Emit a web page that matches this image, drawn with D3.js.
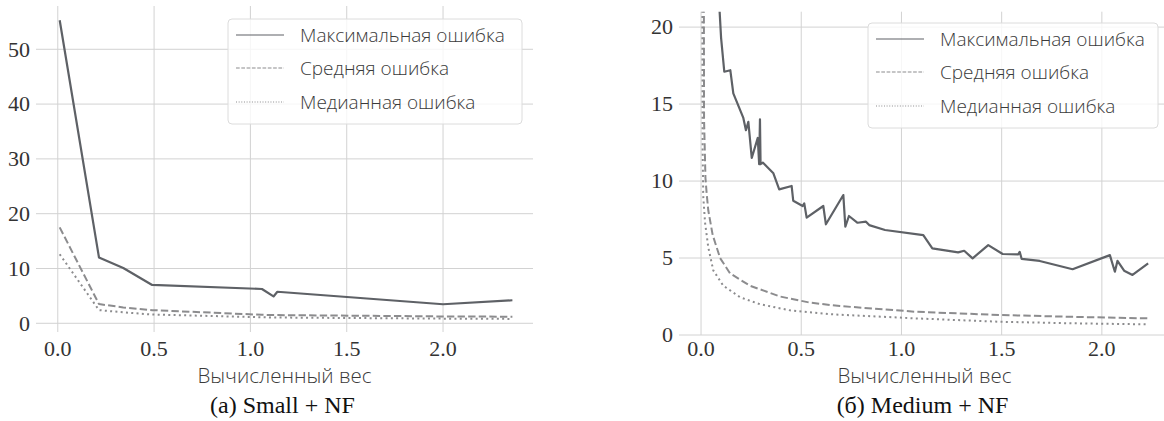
<!DOCTYPE html>
<html>
<head>
<meta charset="utf-8">
<script src="https://cdn.jsdelivr.net/npm/d3@7"></script>
<style>
  body { margin: 0; background: #fff; }
  svg { display: block; }
</style>
</head>
<body>
<svg id="chart" width="1164" height="421"></svg>
<script>
// ---- data: Small + NF ----
const smallX      = [0.01, 0.214, 0.34, 0.49, 1.06, 1.12, 1.14, 2.0, 2.36];
const smallMax    = [55.3, 12.0, 10.1, 7.0, 6.26, 4.9, 5.75, 3.47, 4.2];
const smallMean   = [17.5, 3.5, 2.9, 2.4, 1.55, 1.5, 1.5, 1.25, 1.2];
const smallMedian = [12.6, 2.4, 2.0, 1.6, 1.1, 1.05, 1.05, 0.85, 0.8];

// ---- data: Medium + NF ----
const mediumMaxX = [0.08, 0.1, 0.116, 0.146, 0.161, 0.211, 0.224, 0.236, 0.253, 0.283, 0.29, 0.294, 0.297,
  0.308, 0.361, 0.39, 0.452, 0.46, 0.507, 0.515, 0.527, 0.61, 0.623, 0.71, 0.72, 0.738, 0.781, 0.823,
  0.839, 0.918, 1.109, 1.154, 1.283, 1.313, 1.355, 1.433, 1.505, 1.583, 1.59, 1.6, 1.69, 1.854, 2.04,
  2.065, 2.078, 2.111, 2.153, 2.231];
const mediumMax = [24, 19.3, 17.1, 17.2, 15.7, 14.1, 13.3, 13.85, 11.5, 12.8, 11.1, 14.0, 11.1,
  11.2, 10.5, 9.46, 9.68, 8.72, 8.38, 8.55, 7.62, 8.38, 7.19, 9.09, 7.03, 7.73, 7.29, 7.36,
  7.14, 6.82, 6.49, 5.63, 5.37, 5.47, 4.98, 5.84, 5.26, 5.24, 5.4, 4.94, 4.81, 4.27, 5.19,
  4.11, 4.82, 4.18, 3.9, 4.65];
const mediumMeanX = [0.012, 0.015, 0.022, 0.028, 0.036, 0.058, 0.095, 0.145, 0.244, 0.394, 0.544, 0.693, 1.07, 1.49, 1.85, 2.23];
const mediumMean  = [40, 14, 10.2, 9.2, 8.1, 6.5, 5.0, 4.0, 3.2, 2.5, 2.1, 1.88, 1.51, 1.3, 1.18, 1.08];
const mediumMedX  = [0.004, 0.008, 0.011, 0.02, 0.036, 0.061, 0.111, 0.195, 0.294, 0.444, 0.643, 1.07, 1.49, 1.85, 2.23];
const mediumMed   = [40, 12, 9.0, 7.3, 5.7, 4.2, 3.2, 2.45, 2.0, 1.6, 1.35, 1.08, 0.86, 0.76, 0.69];

const xTicks = [0, 0.5, 1.0, 1.5, 2.0];
const legendLabels = ["Максимальная ошибка", "Средняя ошибка", "Медианная ошибка"];

const zip = (xs, ys) => xs.map((x, i) => [x, ys[i]]);

const styles = [
  { color: "#5e6166", width: 2.2, dash: null,      legendDash: null },
  { color: "#8c8c8e", width: 2.0, dash: "7.4,3.2", legendDash: "3.7,1.6" },
  { color: "#8c8c8e", width: 2.0, dash: "2,3.3",   legendDash: "1,1.65" }
];

const svg = d3.select("#chart");

function drawPanel(id, {
  series,            // array of point arrays
  xDomain, yDomain,
  left, right, top, bottom,
  yTicks,
  legend,            // [x, y, w, h]
  caption
}) {
  const x = d3.scaleLinear().domain(xDomain).range([left, right]);
  const y = d3.scaleLinear().domain(yDomain).range([bottom, top]);
  const g = svg.append("g");

  g.append("clipPath").attr("id", "clip-" + id)
    .append("rect")
      .attr("x", left).attr("y", top)
      .attr("width", right - left).attr("height", bottom - top);

  // grid
  g.append("g").selectAll("line").data(xTicks).join("line")
      .attr("x1", d => x(d)).attr("x2", d => x(d))
      .attr("y1", top).attr("y2", bottom)
      .attr("stroke", "#d2d2d2").attr("stroke-width", 1);
  g.append("g").selectAll("line").data(yTicks).join("line")
      .attr("x1", left).attr("x2", right)
      .attr("y1", d => y(d)).attr("y2", d => y(d))
      .attr("stroke", "#d2d2d2").attr("stroke-width", 1);

  // tick labels
  g.append("g").selectAll("text").data(xTicks).join("text")
      .attr("x", d => x(d)).attr("y", 356)
      .attr("text-anchor", "middle")
      .attr("font-family", "'Liberation Serif', serif")
      .attr("font-size", 22).attr("fill", "#333")
      .text(d => d3.format(".1f")(d));
  g.append("g").selectAll("text").data(yTicks).join("text")
      .attr("x", left - 6).attr("y", d => y(d))
      .attr("dy", "0.33em")
      .attr("text-anchor", "end")
      .attr("font-family", "'Liberation Serif', serif")
      .attr("font-size", 22).attr("fill", "#333")
      .text(d => d);

  // lines
  const line = d3.line().x(d => x(d[0])).y(d => y(d[1]));
  g.append("g").attr("clip-path", `url(#clip-${id})`)
    .selectAll("path").data(series).join("path")
      .attr("d", line)
      .attr("fill", "none")
      .attr("stroke", (d, i) => styles[i].color)
      .attr("stroke-width", (d, i) => styles[i].width)
      .attr("stroke-dasharray", (d, i) => styles[i].dash)
      .attr("stroke-linejoin", "round");

  // legend
  const [lx, ly, lw, lh] = legend;
  const lg = g.append("g");
  lg.append("rect")
      .attr("x", lx).attr("y", ly).attr("width", lw).attr("height", lh)
      .attr("rx", 4)
      .attr("fill", "#fff").attr("fill-opacity", 0.8)
      .attr("stroke", "#dcdcdc");
  const rows = [16, 49, 83];
  legendLabels.forEach((label, i) => {
    lg.append("line")
        .attr("x1", lx + 8).attr("x2", lx + 56)
        .attr("y1", ly + rows[i]).attr("y2", ly + rows[i])
        .attr("stroke", styles[i].color)
        .attr("stroke-width", 1.1)
        .attr("stroke-dasharray", styles[i].legendDash);
    lg.append("text")
        .attr("x", lx + 72).attr("y", ly + rows[i])
        .attr("dy", "0.35em")
        .attr("font-family", "'Open Sans', sans-serif")
        .attr("font-weight", 300)
        .attr("font-size", 19).attr("fill", "#3a3a3a")
        .text(label);
  });

  // axis title + caption
  g.append("text")
      .attr("x", (left + right) / 2).attr("y", 383)
      .attr("text-anchor", "middle")
      .attr("font-family", "'Open Sans', sans-serif")
      .attr("font-weight", 300)
      .attr("font-size", 20.5).attr("fill", "#3a3a3a")
      .text("Вычисленный вес");
  g.append("text")
      .attr("x", (left + right) / 2 - 2).attr("y", 413)
      .attr("text-anchor", "middle")
      .attr("font-family", "'Liberation Serif', serif")
      .attr("font-size", 24).attr("fill", "#111")
      .text(caption);
}

drawPanel("small", {
  series: [zip(smallX, smallMax), zip(smallX, smallMean), zip(smallX, smallMedian)],
  xDomain: [-0.113, 2.467], yDomain: [-1.59, 57.9],
  left: 36, right: 533, top: 6, bottom: 332,
  yTicks: [0, 10, 20, 30, 40, 50],
  legend: [228, 19, 294, 105],
  caption: "(a) Small + NF"
});

drawPanel("medium", {
  series: [zip(mediumMaxX, mediumMax), zip(mediumMeanX, mediumMean), zip(mediumMedX, mediumMed)],
  xDomain: [-0.11, 2.34], yDomain: [0, 21],
  left: 679, right: 1170, top: 11.7, bottom: 335,
  yTicks: [0, 5, 10, 15, 20],
  legend: [868, 23, 290, 105],
  caption: "(б) Medium + NF"
});
</script>
</body>
</html>
